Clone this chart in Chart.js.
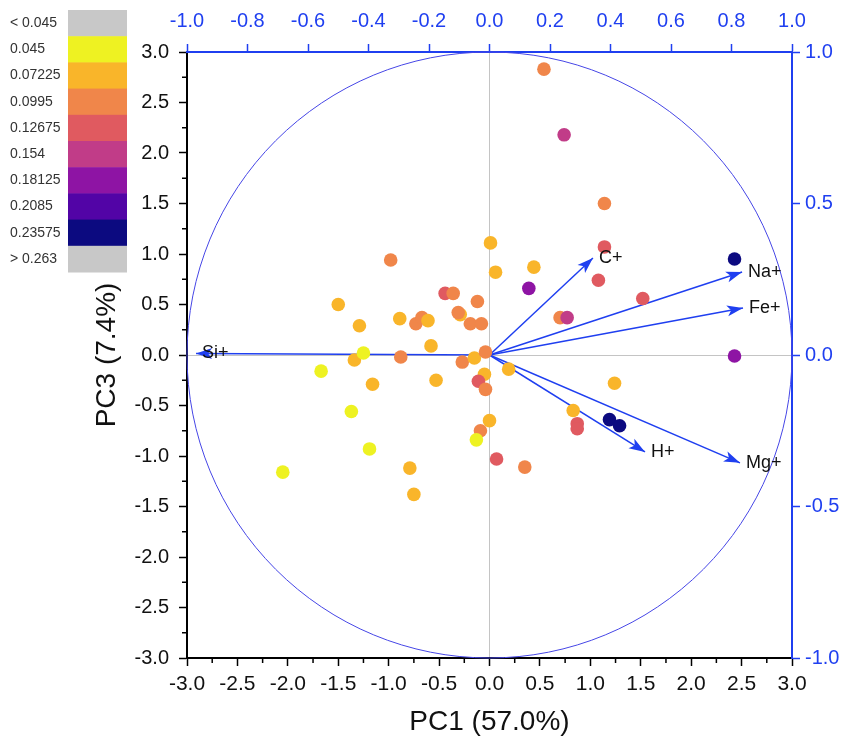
<!DOCTYPE html>
<html>
<head>
<meta charset="utf-8">
<script src="https://cdn.jsdelivr.net/npm/chart.js@4.4.0/dist/chart.umd.min.js"></script>
<style>
  body { margin: 0; background: #fff; }
  canvas { display: block; }
</style>
</head>
<body>
<canvas id="pca" width="852" height="746"></canvas>
<script>
// sample scores (PC1, PC3) and the colour bin each sample falls in
var pc1 = [0.01, 0.06, -0.98, -1.50, -1.29, -0.44, -0.36, -0.12, -0.29, -0.31,
           -0.19, -0.08, -0.89, -0.73, -0.67, -0.61, -0.58, -1.34, -1.25, -0.88,
           -0.27, -0.15, -0.04, -1.67, -1.16, -0.53, -0.05, -0.11, -0.04, -1.37,
           -0.09, 0.00, -0.13, -1.19, 0.07, -2.05, -0.79, -0.75, 0.35, 0.54,
           0.74, 1.14, 1.14, 0.44, 0.39, 2.43, 1.08, 1.52, 0.70, 0.77,
           2.43, 0.19, 1.24, 0.83, 0.87, 0.87, 1.19, 1.29];
var pc3 = [1.11, 0.82, 0.94, 0.50, 0.29, 0.61, 0.61, 0.53, 0.40, 0.42,
           0.31, 0.31, 0.36, 0.31, 0.37, 0.34, 0.09, -0.05, 0.02, -0.02,
           -0.07, -0.03, 0.03, -0.16, -0.29, -0.25, -0.19, -0.26, -0.34, -0.56,
           -0.75, -0.65, -0.84, -0.93, -1.03, -1.16, -1.12, -1.38, -1.11, 2.83,
           2.18, 1.50, 1.07, 0.87, 0.66, 0.95, 0.74, 0.56, 0.37, 0.37,
           -0.01, -0.14, -0.28, -0.55, -0.68, -0.73, -0.64, -0.70];
var bin = [2, 2, 3, 2, 2, 4, 3, 3, 2, 3,
           3, 3, 2, 3, 3, 2, 2, 2, 1, 3,
           3, 2, 3, 1, 2, 2, 2, 4, 3, 1,
           3, 2, 1, 1, 4, 1, 2, 2, 3, 3,
           5, 3, 4, 2, 6, 8, 4, 4, 3, 5,
           6, 2, 2, 2, 4, 4, 8, 8];

var binLabels = ['< 0.045', '0.045', '0.07225', '0.0995', '0.12675', '0.154', '0.18125', '0.2085', '0.23575', '> 0.263'];
var binColors = ['#c8c8c8', '#eef222', '#f9b52a', '#f0864a', '#e05a60', '#c13c88', '#8e14a4', '#5204a6', '#0c0a80', '#c8c8c8'];

// loadings (top / right axes)
var loadNames = ['Si+', 'C+', 'Na+', 'Fe+', 'H+', 'Mg+'];
var loadX = [-0.97, 0.342, 0.835, 0.838, 0.514, 0.828];
var loadY = [0.005, 0.32, 0.274, 0.155, -0.32, -0.356];

var blue = '#1f3ff0';
var font = "'Liberation Sans', Arial, sans-serif";

var scores = [];
var scoreColors = [];
for (var i = 0; i < pc1.length; i++) {
  scores.push({x: pc1[i], y: pc3[i]});
  scoreColors.push(binColors[bin[i]]);
}

var datasets = [{
  label: 'scores',
  data: scores,
  xAxisID: 'x',
  yAxisID: 'y',
  pointRadius: 6.8,
  pointHoverRadius: 6.8,
  pointBorderWidth: 0,
  pointBackgroundColor: scoreColors,
  showLine: false,
  order: 0
}];
for (var j = 0; j < loadNames.length; j++) {
  datasets.push({
    label: loadNames[j],
    data: [{x: 0, y: 0}, {x: loadX[j], y: loadY[j]}],
    xAxisID: 'x2',
    yAxisID: 'y2',
    showLine: true,
    borderColor: blue,
    borderWidth: 1.5,
    pointRadius: 0,
    order: 1
  });
}

function fmt(v) { return Math.abs(v) < 1e-9 ? '0.0' : v.toFixed(1); }
function zeroLine(c) { return c.tick && Math.abs(c.tick.value) < 1e-9 ? '#c4c4c4' : 'rgba(0,0,0,0)'; }

var extras = {
  id: 'extras',
  beforeDatasetsDraw: function(chart) {
    var ctx = chart.ctx, sx = chart.scales.x2, sy = chart.scales.y2;
    var cx = sx.getPixelForValue(0), cy = sy.getPixelForValue(0);
    var rx = sx.getPixelForValue(1) - cx, ry = cy - sy.getPixelForValue(1);
    ctx.save();
    ctx.strokeStyle = '#4646e6';
    ctx.lineWidth = 1;
    ctx.beginPath();
    ctx.ellipse(cx, cy, rx, ry, 0, 0, Math.PI * 2);
    ctx.stroke();
    ctx.restore();
  },
  afterDatasetsDraw: function(chart) {
    var ctx = chart.ctx, sx = chart.scales.x2, sy = chart.scales.y2;
    var ox = sx.getPixelForValue(0), oy = sy.getPixelForValue(0);
    ctx.save();
    for (var i = 0; i < loadNames.length; i++) {
      var tx = sx.getPixelForValue(loadX[i]), ty = sy.getPixelForValue(loadY[i]);
      var a = Math.atan2(ty - oy, tx - ox);
      ctx.fillStyle = blue;
      ctx.beginPath();
      ctx.moveTo(tx, ty);
      ctx.lineTo(tx - 16 * Math.cos(a) + 5.5 * Math.sin(a), ty - 16 * Math.sin(a) - 5.5 * Math.cos(a));
      ctx.lineTo(tx - 12 * Math.cos(a), ty - 12 * Math.sin(a));
      ctx.lineTo(tx - 16 * Math.cos(a) - 5.5 * Math.sin(a), ty - 16 * Math.sin(a) + 5.5 * Math.cos(a));
      ctx.closePath();
      ctx.fill();
      ctx.fillStyle = '#111';
      ctx.font = '18px ' + font;
      ctx.textAlign = 'left';
      ctx.textBaseline = 'middle';
      ctx.fillText(loadNames[i], tx + 6, ty);
    }
    ctx.restore();
  },
  afterDraw: function(chart) {
    var ctx = chart.ctx;
    var xs = chart.scales.x, ys = chart.scales.y;
    ctx.save();
    // minor ticks
    ctx.strokeStyle = '#000';
    ctx.lineWidth = 1.5;
    ctx.beginPath();
    for (var v = -2.75; v < 3; v += 0.5) {
      var px = xs.getPixelForValue(v);
      ctx.moveTo(px, xs.top); ctx.lineTo(px, xs.top + 5);
      var py = ys.getPixelForValue(v);
      ctx.moveTo(ys.right, py); ctx.lineTo(ys.right - 5, py);
    }
    ctx.stroke();
    // colour bar
    var bx = 68, bw = 59, by = 10, bh = 26.2;
    ctx.font = '14px ' + font;
    ctx.textAlign = 'left';
    ctx.textBaseline = 'middle';
    for (var k = 0; k < binLabels.length; k++) {
      ctx.fillStyle = binColors[k];
      ctx.fillRect(bx, by + k * bh, bw, bh + 0.5);
      ctx.fillStyle = '#333';
      ctx.fillText(binLabels[k], 10, by + k * bh + bh / 2);
    }
    ctx.restore();
  }
};

new Chart(document.getElementById('pca'), {
  type: 'scatter',
  data: {datasets: datasets},
  plugins: [extras],
  options: {
    responsive: false,
    animation: false,
    events: [],
    layout: {padding: 0},
    plugins: {legend: {display: false}, tooltip: {enabled: false}},
    scales: {
      x: {
        type: 'linear', position: 'bottom', min: -3, max: 3,
        afterFit: function(s) { s.height = 88; },
        border: {color: '#000', width: 2},
        grid: {color: zeroLine, tickColor: '#000', tickLength: 8, tickWidth: 1.5, lineWidth: 1},
        ticks: {stepSize: 0.5, color: '#111', padding: 6, maxRotation: 0, autoSkip: false,
                font: {family: font, size: 21}, callback: fmt},
        title: {display: true, text: 'PC1 (57.0%)', color: '#111',
                font: {family: font, size: 28}, padding: {top: 0, bottom: 7}}
      },
      y: {
        type: 'linear', position: 'left', min: -3, max: 3,
        afterFit: function(s) { s.width = 187; },
        border: {color: '#000', width: 2},
        grid: {color: zeroLine, tickColor: '#000', tickLength: 8, tickWidth: 1.5, lineWidth: 1},
        ticks: {stepSize: 0.5, color: '#111', padding: 10, autoSkip: false,
                font: {family: font, size: 20}, callback: fmt},
        title: {display: true, text: 'PC3 (7.4%)', color: '#111',
                font: {family: font, size: 28}, padding: {top: 90, bottom: 0}}
      },
      x2: {
        type: 'linear', position: 'top', min: -1, max: 1,
        afterFit: function(s) { s.height = 52; },
        border: {color: blue, width: 2},
        grid: {drawOnChartArea: false, color: blue, tickLength: 8, tickWidth: 1.5},
        ticks: {stepSize: 0.2, color: blue, padding: 11, maxRotation: 0, autoSkip: false,
                font: {family: font, size: 20}, callback: fmt}
      },
      y2: {
        type: 'linear', position: 'right', min: -1, max: 1,
        afterFit: function(s) { s.width = 60; },
        border: {color: blue, width: 2},
        grid: {drawOnChartArea: false, color: blue, tickLength: 8, tickWidth: 1.5},
        ticks: {stepSize: 0.5, color: blue, padding: 5, autoSkip: false,
                font: {family: font, size: 20}, callback: fmt}
      }
    }
  }
});
</script>
</body>
</html>
